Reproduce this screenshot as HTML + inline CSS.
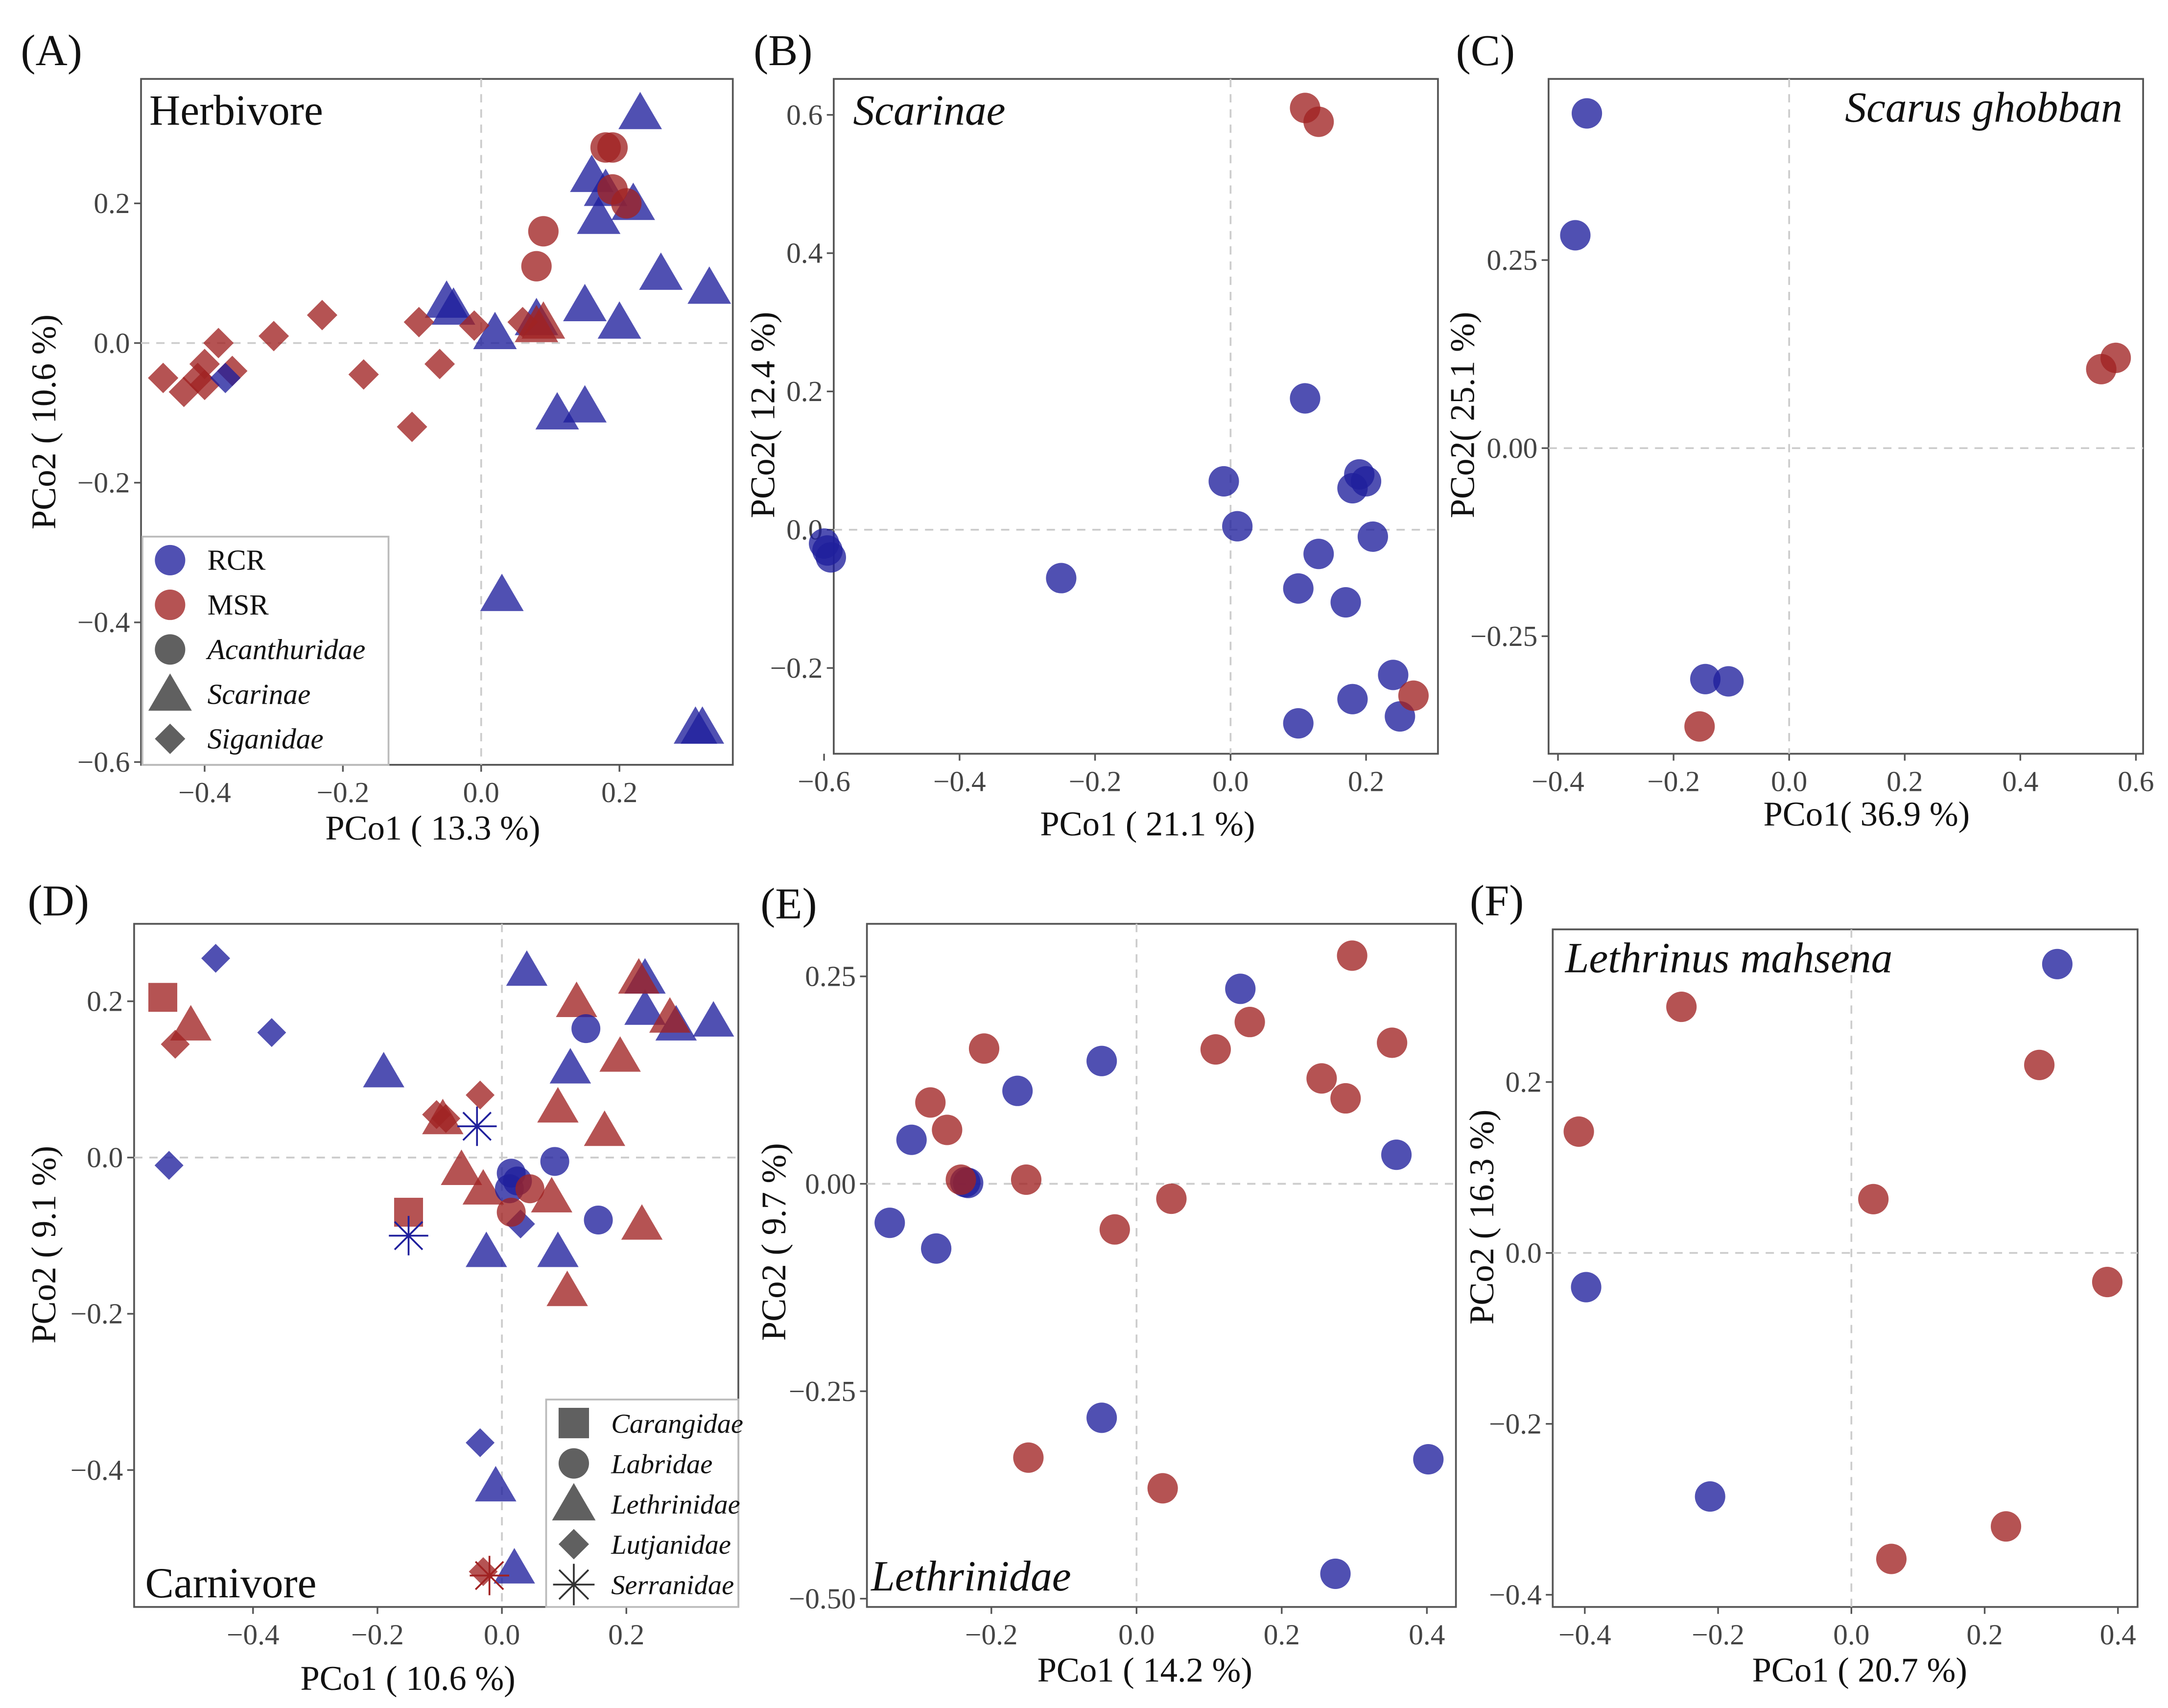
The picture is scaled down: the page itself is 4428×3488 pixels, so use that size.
<!DOCTYPE html>
<html><head><meta charset="utf-8"><style>
html,body{margin:0;padding:0;background:#fff;}
svg{display:block;}
text{font-family:"Liberation Serif",serif;}
</style></head><body>
<svg id="fig" xmlns="http://www.w3.org/2000/svg" width="4428" height="3488" viewBox="0 0 1568 1235">
<rect width="1568" height="1235" fill="#fff"/>
</svg>
<script>
// ---- data (group: 0=RCR blue, 1=MSR red; shape: c circle, t triangle, d diamond, s square, x asterisk)
const aX=[0.23,0.16,0.18,0.17,0.22,0.26,0.33,0.15,0.20,-0.05,-0.04,0.02,0.08,0.11,0.15,0.03,0.31,0.32, 0.09,0.08, 0.18,0.19,0.21,0.09,0.08,0.19, -0.46,-0.43,-0.41,-0.40,-0.38,-0.36,-0.30,-0.23,-0.17,-0.10,-0.06,-0.09,-0.01,0.06,-0.40, -0.37];
const aY=[0.33,0.24,0.22,0.18,0.20,0.10,0.08,0.055,0.03,0.06,0.05,0.015,0.035,-0.10,-0.09,-0.36,-0.55,-0.55, 0.03,0.025, 0.28,0.28,0.20,0.16,0.11,0.22, -0.05,-0.07,-0.05,-0.03,0.0,-0.04,0.01,0.04,-0.045,-0.12,-0.03,0.03,0.025,0.03,-0.06, -0.05];
const aG=[0,0,0,0,0,0,0,0,0,0,0,0,0,0,0,0,0,0, 1,1, 1,1,1,1,1,1, 1,1,1,1,1,1,1,1,1,1,1,1,1,1,1, 0];
const aS=['t','t','t','t','t','t','t','t','t','t','t','t','t','t','t','t','t','t','t','t','c','c','c','c','c','c','d','d','d','d','d','d','d','d','d','d','d','d','d','d','d','d'];

const bX=[-0.60,-0.59,-0.595,-0.25,-0.01,0.01,0.11,0.19,0.18,0.20,0.21,0.13,0.10,0.17,0.24,0.18,0.25,0.10, 0.11,0.13,0.27];
const bY=[-0.02,-0.04,-0.03,-0.07,0.07,0.005,0.19,0.08,0.06,0.07,-0.01,-0.035,-0.085,-0.105,-0.21,-0.245,-0.27,-0.28, 0.61,0.59,-0.24];
const bG=[0,0,0,0,0,0,0,0,0,0,0,0,0,0,0,0,0,0,1,1,1];

const cX=[-0.35,-0.37,-0.145,-0.105, 0.565,0.54,-0.155];
const cY=[0.445,0.283,-0.307,-0.31, 0.12,0.105,-0.37];
const cG=[0,0,0,0,1,1,1];

const dX=[-0.545,-0.15, -0.46,-0.37,-0.535,-0.035,0.03, -0.525,-0.035,-0.105,-0.09,-0.03, 0.04,-0.19,0.11,0.23,0.23,0.28,0.34,-0.025,0.09,-0.01,0.02, -0.50,0.12,0.22,0.27,0.19,0.165,0.09,-0.065,-0.03,0.08,0.225,0.105,-0.095, 0.135,0.085,0.155,0.015,0.025,0.012, 0.015,0.045, -0.04,-0.15,-0.02];
const dY=[0.205,-0.07, 0.255,0.16,-0.01,-0.365,-0.085, 0.145,0.08,0.055,0.05,-0.53, 0.24,0.11,0.115,0.23,0.19,0.17,0.175,-0.12,-0.12,-0.42,-0.525, 0.17,0.2,0.23,0.18,0.13,0.035,0.065,-0.015,-0.04,-0.05,-0.085,-0.17,0.05, 0.165,-0.005,-0.08,-0.02,-0.03,-0.04, -0.07,-0.04, 0.04,-0.1,-0.535];
const dG=[1,1, 0,0,0,0,0, 1,1,1,1,1, 0,0,0,0,0,0,0,0,0,0,0, 1,1,1,1,1,1,1,1,1,1,1,1,1, 0,0,0,0,0,0, 1,1, 0,0,1];
const dS=['s','s','d','d','d','d','d','d','d','d','d','d','t','t','t','t','t','t','t','t','t','t','t','t','t','t','t','t','t','t','t','t','t','t','t','t','c','c','c','c','c','c','c','c','x','x','x'];

const eX=[0.143,-0.048,-0.164,-0.31,-0.236,-0.232,-0.34,-0.276,0.358,-0.048,0.402,0.274, 0.297,0.156,0.109,-0.21,-0.284,-0.261,-0.242,-0.152,0.048,-0.03,0.255,0.288,0.352,-0.149,0.036];
const eY=[0.235,0.148,0.112,0.053,0.002,0.001,-0.047,-0.078,0.035,-0.282,-0.332,-0.47, 0.275,0.195,0.162,0.163,0.098,0.065,0.005,0.005,-0.018,-0.055,0.127,0.103,0.17,-0.33,-0.367];
const eG=[0,0,0,0,0,0,0,0,0,0,0,0,1,1,1,1,1,1,1,1,1,1,1,1,1,1,1];

const fX=[0.309,-0.398,-0.212, -0.255,-0.409,0.282,0.033,0.384,0.232,0.06];
const fY=[0.338,-0.04,-0.285, 0.288,0.142,0.22,0.063,-0.034,-0.32,-0.358];
const fG=[0,0,0,1,1,1,1,1,1,1];

const aXT=[-0.4,-0.2,0.0,0.2], aYT=[0.2,0.0,-0.2,-0.4,-0.6];
const bXT=[-0.6,-0.4,-0.2,0.0,0.2], bYT=[0.6,0.4,0.2,0.0,-0.2];
const cXT=[-0.4,-0.2,0.0,0.2,0.4,0.6], cYT=[0.25,0.0,-0.25];
const dXT=[-0.4,-0.2,0.0,0.2], dYT=[0.2,0.0,-0.2,-0.4];
const eXT=[-0.2,0.0,0.2,0.4], eYT=[0.25,0.0,-0.25,-0.5];
const fXT=[-0.4,-0.2,0.0,0.2,0.4], fYT=[0.2,0.0,-0.2,-0.4];

// ---- drawing
const NS='http://www.w3.org/2000/svg';
const svg=document.getElementById('fig');
const COL=['#1f1f9c','#a02222'];
function mk(tag,attrs,parent){const e=document.createElementNS(NS,tag);for(const k in attrs)e.setAttribute(k,attrs[k]);(parent||svg).appendChild(e);return e;}
function fmt(v,d){const s=Math.abs(v).toFixed(d);return (v<0?'\u2212':'')+s;}

function panel(p){
  const g=mk('g',{});
  
  
  const sx=v=>p.x0+v*p.kx, sy=v=>p.y0-v*p.ky;
  const fr=mk('rect',{x:p.L,y:p.T,width:p.R-p.L,height:p.B-p.T,fill:'none',stroke:'#555','stroke-width':1.3},g);
  
  
  const vl=mk('line',{x1:sx(0),x2:sx(0),y1:p.T,y2:p.B,stroke:'#ccc','stroke-width':1.3,'stroke-dasharray':'6,5'},g);
  
  
  const hl=mk('line',{x1:p.L,x2:p.R,y1:sy(0),y2:sy(0),stroke:'#ccc','stroke-width':1.3,'stroke-dasharray':'6,5'},g);
  
  
  p.xt.forEach(v=>{
    mk('line',{x1:sx(v),x2:sx(v),y1:p.B,y2:p.B+5,stroke:'#555','stroke-width':1.2},g);
    const t=mk('text',{x:sx(v),y:p.B+27,'text-anchor':'middle','font-size':21,fill:'#444'},g);
    t.textContent=fmt(v,1);
    
    
  });
  p.yt.forEach(v=>{
    mk('line',{x1:p.L-5,x2:p.L,y1:sy(v),y2:sy(v),stroke:'#555','stroke-width':1.2},g);
    const t=mk('text',{x:p.L-8,y:sy(v)+7,'text-anchor':'end','font-size':21,fill:'#444'},g);
    t.textContent=fmt(v,p.yd);
    
    
  });
  const xt=mk('text',{x:p.xtx,y:p.xty,'text-anchor':'middle','font-size':25,fill:'#111'},g);
  xt.textContent=p.xlab;
  
  
  const yt=mk('text',{x:0,y:0,'text-anchor':'middle','font-size':25,fill:'#111',transform:`translate(${p.ytx},${p.yty}) rotate(-90)`},g);
  yt.textContent=p.ylab;
  
  
  const pl=mk('text',{x:p.plx,y:p.ply,'font-size':32,fill:'#111'},g);
  pl.textContent=p.pl;
  
  
  const ti=mk('text',{x:p.tx,y:p.ty,'font-size':31,fill:'#111','font-style':p.ital?'italic':'normal','text-anchor':p.ta||'start'},g);
  ti.textContent=p.title;
  
  
  for(let i=0;i<p.X.length;i++){
    const s=p.S?p.S[i]:'c';
    const m=marker(s,sx(p.X[i]),sy(p.Y[i]),COL[p.G[i]],p.ms||1,g);
    
    
  }
  return g;
}
function marker(s,x,y,c,k,g){
  const op=0.78;
  if(s==='c') return mk('circle',{cx:x,cy:y,r:11*k,fill:c,'fill-opacity':op},g);
  if(s==='t'){const h=15*k;return mk('polygon',{points:`${x},${y-h} ${x+h*1.05},${y+h*0.8} ${x-h*1.05},${y+h*0.8}`,fill:c,'fill-opacity':op},g);}
  if(s==='d'){const h=11*k;return mk('polygon',{points:`${x},${y-h} ${x+h},${y} ${x},${y+h} ${x-h},${y}`,fill:c,'fill-opacity':op},g);}
  if(s==='s'){const h=11*k;return mk('rect',{x:x-h,y:y-h,width:2*h,height:2*h,fill:c,'fill-opacity':op},g);}
  const a=mk('g',{stroke:c,'stroke-width':1.3},g);const h=15*k;
  for(let i=0;i<4;i++){const an=i*Math.PI/4;mk('line',{x1:x-h*Math.cos(an),y1:y-h*Math.sin(an),x2:x+h*Math.cos(an),y2:y+h*Math.sin(an)},a);}
  return a;
}

panel({name:'panel-a-herbivore',L:102,R:530,T:57,B:553,x0:348,kx:500,y0:248,ky:505,xt:aXT,yt:aYT,yd:1,xlab:'PCo1 ( 13.3 %)',xtx:313,xty:607,ylab:'PCo2 ( 10.6 %)',ytx:40,yty:305,pl:'(A)',plx:15,ply:47,title:'Herbivore',tx:108,ty:90,X:aX,Y:aY,G:aG,S:aS});
panel({name:'panel-b-scarinae',L:603,R:1040,T:57,B:545,x0:890,kx:490,y0:383,ky:500,xt:bXT,yt:bYT,yd:1,xlab:'PCo1 ( 21.1 %)',xtx:830,xty:604,ylab:'PCo2( 12.4 %)',ytx:560,yty:300,pl:'(B)',plx:545,ply:47,title:'Scarinae',ital:true,tx:617,ty:90,X:bX,Y:bY,G:bG});
panel({name:'panel-c-scarus-ghobban',L:1120,R:1550,T:57,B:545,x0:1294,kx:418,y0:324,ky:544,xt:cXT,yt:cYT,yd:2,xlab:'PCo1( 36.9 %)',xtx:1350,xty:597,ylab:'PCo2( 25.1 %)',ytx:1066,yty:300,pl:'(C)',plx:1053,ply:47,title:'Scarus ghobban',ital:true,ta:'end',tx:1535,ty:88,X:cX,Y:cY,G:cG});
panel({name:'panel-d-carnivore',L:97,R:534,T:668,B:1162,x0:363,kx:450,y0:837,ky:565,xt:dXT,yt:dYT,yd:1,xlab:'PCo1 ( 10.6 %)',xtx:295,xty:1222,ylab:'PCo2 ( 9.1 %)',ytx:40,yty:900,pl:'(D)',plx:20,ply:662,title:'Carnivore',tx:105,ty:1155,X:dX,Y:dY,G:dG,S:dS,ms:0.95});
panel({name:'panel-e-lethrinidae',L:627,R:1053,T:668,B:1162,x0:822,kx:525,y0:856,ky:600,xt:eXT,yt:eYT,yd:2,xlab:'PCo1 ( 14.2 %)',xtx:828,xty:1216,ylab:'PCo2 ( 9.7 %)',ytx:568,yty:898,pl:'(E)',plx:550,ply:664,title:'Lethrinidae',ital:true,tx:630,ty:1150,X:eX,Y:eY,G:eG});
panel({name:'panel-f-lethrinus-mahsena',L:1123,R:1546,T:672,B:1162,x0:1339,kx:482,y0:906,ky:618,xt:fXT,yt:fYT,yd:1,xlab:'PCo1 ( 20.7 %)',xtx:1345,xty:1216,ylab:'PCo2 ( 16.3 %)',ytx:1080,yty:880,pl:'(F)',plx:1063,ply:662,title:'Lethrinus mahsena',ital:true,tx:1132,ty:703,X:fX,Y:fY,G:fG});

// legends
function legend(name,x,y,w,h,items,dy,fs){
  const g=mk('g',{});
  
  
  mk('rect',{x:x,y:y,width:w,height:h,fill:'#fff',stroke:'#bbb','stroke-width':1.3},g);
  items.forEach((it,i)=>{
    const cy=y+17+i*dy;
    const m=marker(it.s,x+20,cy,it.c,it.k||1,g);
    const t=mk('text',{x:x+47,y:cy+7,'font-size':fs,fill:'#111','font-style':it.i?'italic':'normal'},g);
    t.textContent=it.t;
    
    
  });
}
legend('legend-herbivore',103,388,178,165,[{s:'c',c:COL[0],t:'RCR'},{s:'c',c:COL[1],t:'MSR'},{s:'c',c:'#333',t:'Acanthuridae',i:1},{s:'t',c:'#333',t:'Scarinae',i:1},{s:'d',c:'#333',t:'Siganidae',i:1}],32.3,21);
legend('legend-carnivore',395,1012,139,150,[{s:'s',c:'#333',t:'Carangidae',i:1},{s:'c',c:'#333',t:'Labridae',i:1},{s:'t',c:'#333',t:'Lethrinidae',i:1},{s:'d',c:'#333',t:'Lutjanidae',i:1},{s:'x',c:'#333',t:'Serranidae',i:1}],29.2,20);
</script>
</body></html>
